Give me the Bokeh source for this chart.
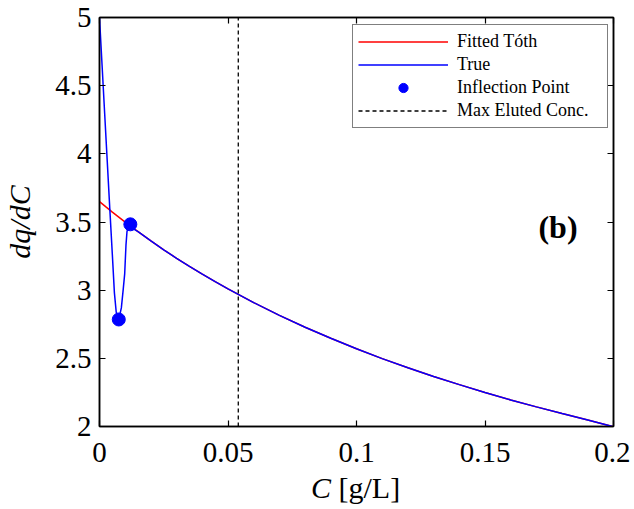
from bokeh.plotting import figure
from bokeh.models import FixedTicker, LinearAxis, Label, Legend, LegendItem, Range1d, Div
from bokeh.layouts import column
from bokeh.embed import file_html
from bokeh.resources import INLINE

# ---- data ----
toth_x = [0, 0.0025, 0.005, 0.0075, 0.01, 0.0125, 0.015, 0.02, 0.025, 0.03, 0.035, 0.04,
          0.045, 0.05, 0.06, 0.07, 0.08, 0.09, 0.1, 0.11, 0.12, 0.13, 0.14, 0.15, 0.16,
          0.17, 0.18, 0.19, 0.2]
toth_y = [3.650, 3.611, 3.573, 3.536, 3.499, 3.464, 3.429, 3.362, 3.296, 3.234, 3.175, 3.117,
          3.062, 3.009, 2.909, 2.815, 2.728, 2.647, 2.570, 2.498, 2.431, 2.367, 2.307, 2.249,
          2.195, 2.144, 2.095, 2.048, 1.998]

true_x = [0, 0.001, 0.002, 0.003, 0.004, 0.005, 0.0058, 0.0065, 0.0075, 0.0085, 0.0092,
          0.0098, 0.0103, 0.0107, 0.0113, 0.012, 0.013, 0.014, 0.015, 0.02, 0.025, 0.03,
          0.035, 0.04, 0.045, 0.05, 0.06, 0.07, 0.08, 0.09, 0.1, 0.11, 0.12, 0.13, 0.14,
          0.15, 0.16, 0.17, 0.18, 0.19, 0.2]
true_y = [5.00, 4.65, 4.30, 3.95, 3.60, 3.26, 2.98, 2.84, 2.785, 2.87, 3.00,
          3.12, 3.33, 3.43, 3.47, 3.483, 3.455, 3.440, 3.429, 3.362, 3.296, 3.234,
          3.175, 3.117, 3.062, 3.009, 2.909, 2.815, 2.728, 2.647, 2.570, 2.498, 2.431, 2.367, 2.307,
          2.249, 2.195, 2.144, 2.095, 2.048, 1.998]

inflection_x = [0.0075, 0.012]
inflection_y = [2.785, 3.483]

max_eluted_conc = 0.054

x_ticks = [0, 0.05, 0.1, 0.15, 0.2]
x_tick_labels = ["0", "0.05", "0.1", "0.15", "0.2"]
y_ticks = [2, 2.5, 3, 3.5, 4, 4.5, 5]
y_tick_labels = ["2", "2.5", "3", "3.5", "4", "4.5", "5"]

FONT = "Liberation Serif"

p = figure(width=630, height=470, output_backend="svg", toolbar_location=None,
           x_range=Range1d(0, 0.2), y_range=Range1d(2, 5),
           min_border_left=98, min_border_right=17, min_border_top=17, min_border_bottom=44)
p.xgrid.visible = False
p.ygrid.visible = False
p.background_fill_color = "white"
p.border_fill_color = "white"
p.outline_line_color = "black"
p.outline_line_width = 1.5


def style_axis(ax, ticks, labels, show_labels=True, standoff=8):
    ax.ticker = FixedTicker(ticks=ticks)
    ax.major_label_overrides = {t: l for t, l in zip(ticks, labels)}
    ax.axis_line_color = "black"
    ax.axis_line_width = 1.5
    ax.major_tick_line_color = "black"
    ax.major_tick_line_width = 1.2
    ax.major_tick_in = 6
    ax.major_tick_out = 0
    ax.minor_tick_line_color = None
    ax.major_label_text_font = FONT
    ax.major_label_text_color = "black"
    if show_labels:
        ax.major_label_text_font_size = "29px"
        ax.major_label_standoff = standoff
    else:
        ax.major_label_text_font_size = "0px"
        ax.major_label_standoff = 0


style_axis(p.xaxis[0], x_ticks, x_tick_labels, standoff=16)
style_axis(p.yaxis[0], y_ticks, y_tick_labels, standoff=8)
p.yaxis.axis_label = "dq/dC"
p.yaxis.axis_label_text_font = FONT
p.yaxis.axis_label_text_font_style = "italic"
p.yaxis.axis_label_text_font_size = "30px"
p.yaxis.axis_label_standoff = 16
p.yaxis.axis_label_text_color = "black"

top_ax = LinearAxis()
style_axis(top_ax, x_ticks, [""] * len(x_ticks), show_labels=False)
p.add_layout(top_ax, "above")
right_ax = LinearAxis()
style_axis(right_ax, y_ticks, [""] * len(y_ticks), show_labels=False)
p.add_layout(right_ax, "right")

r_toth = p.line(toth_x, toth_y, line_color="red", line_width=1.5)
r_true = p.line(true_x, true_y, line_color="blue", line_width=1.5)
r_inf = p.scatter(inflection_x, inflection_y, size=13, marker="circle",
                  fill_color="blue", line_color="blue")
r_max = p.line([max_eluted_conc, max_eluted_conc], [y_ticks[0], y_ticks[-1]],
               line_color="black", line_width=1.3, line_dash="4 3")

legend = Legend(items=[
    LegendItem(label="Fitted Tóth", renderers=[r_toth]),
    LegendItem(label="True", renderers=[r_true]),
    LegendItem(label="Inflection Point", renderers=[r_inf]),
    LegendItem(label="Max Eluted Conc.", renderers=[r_max]),
], location=(253, 298))
legend.margin = 0
legend.padding = 5
legend.spacing = 0
legend.label_height = 23
legend.glyph_height = 23
legend.glyph_width = 90
legend.label_standoff = 9
legend.label_width = 145
legend.label_text_font = FONT
legend.label_text_font_size = "18px"
legend.label_text_color = "black"
legend.border_line_color = "black"
legend.border_line_width = 1.2
legend.background_fill_color = "white"
legend.background_fill_alpha = 1.0
p.add_layout(legend)

p.add_layout(Label(x=0.1784, y=3.46, text="(b)", text_font=FONT, text_font_style="bold",
                   text_font_size="32px", text_align="center", text_baseline="middle",
                   text_color="black"))

xlabel = Div(text="<i>C</i> [g/L]", width=200, height=36, margin=(0, 0, 0, 311),
             styles={"font-family": FONT, "font-size": "30px", "color": "black",
                     "line-height": "36px", "white-space": "nowrap"})

layout = column(p, xlabel, spacing=0)
open("out.html", "w").write(file_html(layout, INLINE))
